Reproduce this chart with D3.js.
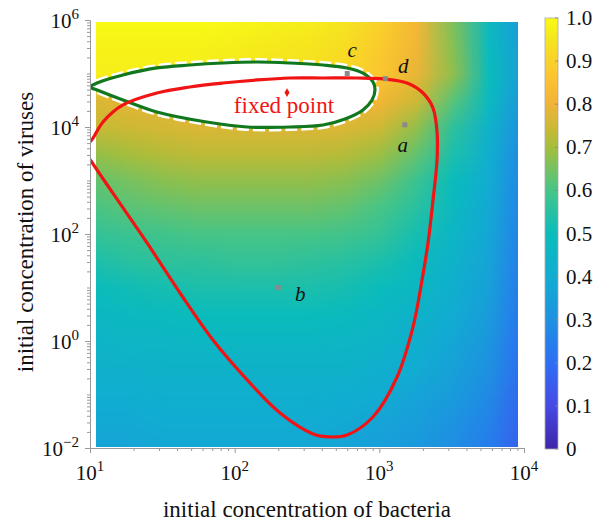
<!DOCTYPE html>
<html lang="en">
<head>
<meta charset="UTF-8">
<title>Bacteria / virus phase plane</title>
<script src="https://d3js.org/d3.v7.min.js"></script>
<style>
  body { margin: 0; background: #fff; }
  svg { display: block; background: #fff; }
  text { font-family: "Liberation Serif", "Times New Roman", serif; fill: #111; }
</style>
</head>
<body>
<script>
// ---- data ----
// heatmap grid: columns = bacteria, rows = viruses (top to bottom)
const gridBacteria = [10, 17.8, 31.6, 56.2, 100, 178, 316, 562, 1000, 1780, 3160, 5620, 10000];
const gridViruses = [1e6, 3.16e5, 1e5, 3.16e4, 1e4, 3160, 1000, 316, 100, 31.6, 10, 3.16, 1, 0.316, 0.1, 0.0316, 0.01];
const gridValues = [
  [1.00, 1.00, 1.00, 1.00, 0.99, 0.98, 0.97, 0.95, 0.90, 0.82, 0.66, 0.48, 0.33],
  [0.98, 0.98, 0.98, 0.98, 0.97, 0.96, 0.95, 0.93, 0.88, 0.81, 0.67, 0.49, 0.34],
  [0.97, 0.97, 0.97, 0.97, 0.96, 0.95, 0.94, 0.92, 0.87, 0.79, 0.68, 0.50, 0.34],
  [0.77, 0.78, 0.78, 0.79, 0.79, 0.79, 0.80, 0.81, 0.81, 0.75, 0.62, 0.48, 0.32],
  [0.74, 0.75, 0.76, 0.77, 0.77, 0.77, 0.77, 0.77, 0.75, 0.68, 0.56, 0.44, 0.29],
  [0.68, 0.70, 0.72, 0.73, 0.73, 0.73, 0.73, 0.72, 0.69, 0.63, 0.53, 0.42, 0.27],
  [0.63, 0.65, 0.67, 0.68, 0.68, 0.68, 0.68, 0.67, 0.64, 0.58, 0.50, 0.40, 0.26],
  [0.60, 0.62, 0.63, 0.64, 0.64, 0.64, 0.64, 0.63, 0.60, 0.55, 0.48, 0.39, 0.25],
  [0.57, 0.58, 0.59, 0.60, 0.60, 0.60, 0.60, 0.59, 0.57, 0.52, 0.46, 0.38, 0.24],
  [0.53, 0.55, 0.56, 0.56, 0.57, 0.57, 0.56, 0.55, 0.53, 0.49, 0.44, 0.37, 0.23],
  [0.50, 0.51, 0.52, 0.53, 0.53, 0.53, 0.53, 0.52, 0.50, 0.47, 0.42, 0.36, 0.22],
  [0.47, 0.48, 0.49, 0.50, 0.50, 0.50, 0.50, 0.49, 0.47, 0.44, 0.40, 0.34, 0.21],
  [0.45, 0.46, 0.46, 0.47, 0.47, 0.47, 0.47, 0.46, 0.45, 0.42, 0.38, 0.32, 0.20],
  [0.43, 0.43, 0.44, 0.44, 0.44, 0.44, 0.44, 0.44, 0.42, 0.40, 0.36, 0.30, 0.19],
  [0.41, 0.41, 0.42, 0.42, 0.42, 0.42, 0.42, 0.41, 0.40, 0.37, 0.34, 0.28, 0.17],
  [0.39, 0.39, 0.40, 0.40, 0.40, 0.40, 0.40, 0.39, 0.37, 0.35, 0.31, 0.26, 0.16],
  [0.37, 0.37, 0.38, 0.38, 0.38, 0.38, 0.38, 0.37, 0.35, 0.33, 0.29, 0.24, 0.15]
];
// extent actually covered by the shaded field
const fieldBacteria = [11, 9100];
const fieldViruses = [0.0104, 9.2e5];

// red separatrix (bacteria, viruses)
const redCurve = [
  [9.2, 3700], [10.3, 2200], [14.4, 580], [24.8, 68], [41.9, 7.9], [70.8, 1.04],
  [122, 0.187], [206, 0.045], [348, 0.0183], [456, 0.0161], [598, 0.0175], [903, 0.038],
  [1324, 0.21], [1709, 1.83], [1973, 13.8], [2170, 68], [2350, 433], [2505, 2415],
  [2505, 8070], [2350, 22600], [2004, 43200], [1554, 66400], [1094, 78800], [701, 82400],
  [408, 82400], [241, 82400], [143, 75700], [83, 66400], [49, 56000], [29, 43200],
  [16.9, 25800], [12.3, 12400], [10.5, 6220]
];
// green closed orbit
const greenCurve = [
  [10, 56000], [11.2, 66400], [16.9, 93700], [29, 127000], [49, 144000], [83, 157000],
  [143, 164000], [241, 157000], [408, 144000], [598, 127000], [771, 102000], [904, 69300],
  [933, 49200], [890, 32000], [771, 20800], [579, 14100], [408, 10900], [241, 10000],
  [122, 10000], [64, 12400], [29, 19100], [16.9, 32000], [11.2, 49200]
];
const markerNames = ['a', 'b', 'c', 'd'];
const markerBacteria = [1500, 200, 600, 1100];
const markerViruses = [11000, 10, 100000, 80000];
const fixedPoint = [230, 44000];

const xMajor = [10, 100, 1000, 10000];
const yMajor = [1e-2, 1, 1e2, 1e4, 1e6];
const cbTicks = [0, 0.1, 0.2, 0.3, 0.4, 0.5, 0.6, 0.7, 0.8, 0.9, 1.0];

// parula-like colormap
const cmapStops = [0, 0.1, 0.2, 0.3, 0.4, 0.5, 0.6, 0.7, 0.75, 0.8, 0.85, 0.9, 0.95, 1];
const cmapColors = ['#3e26a8', '#4749e5', '#2d6ef5', '#1e91e1', '#12acd2', '#0abcbc', '#46c587',
                    '#a5be3c', '#cdb935', '#f0b437', '#fbbf33', '#fad12a', '#f5e51f', '#f9fb14'];

// ---- layout ----
const width = 606, height = 524;
const labelOffset = {a: [-2, 27], b: [22, 13], c: [5, -17], d: [18, -6]};

const svg = d3.select('body').append('svg')
  .attr('width', width)
  .attr('height', height)
  .attr('font-family', '"Liberation Serif", "Times New Roman", serif');

const x = d3.scaleLog().domain([10, 1e4]).range([90, 524]);
const y = d3.scaleLog().domain([1e-2, 1e6]).range([448, 20]);
const color = d3.scaleLinear().domain(cmapStops).range(cmapColors).clamp(true);

const defs = svg.append('defs');
defs.append('clipPath').attr('id', 'field-clip').append('rect')
  .attr('x', x(fieldBacteria[0])).attr('y', y(fieldViruses[1]))
  .attr('width', x(fieldBacteria[1]) - x(fieldBacteria[0]))
  .attr('height', y(fieldViruses[0]) - y(fieldViruses[1]));
defs.append('clipPath').attr('id', 'plot-clip').append('rect')
  .attr('x', 90).attr('y', 20).attr('width', 434).attr('height', 428);

// shaded field: one pixel per grid cell, smoothed on upscaling
const cols = gridBacteria.length, rows = gridViruses.length;
const canvas = document.createElement('canvas');
canvas.width = cols; canvas.height = rows;
const ctx = canvas.getContext('2d');
const img = ctx.createImageData(cols, rows);
gridValues.forEach((row, j) => {
  row.forEach((v, i) => {
    const c = d3.rgb(color(v));
    const k = (j * cols + i) * 4;
    img.data[k] = c.r; img.data[k + 1] = c.g; img.data[k + 2] = c.b; img.data[k + 3] = 255;
  });
});
ctx.putImageData(img, 0, 0);

const dx = (x(gridBacteria[1]) - x(gridBacteria[0])) / 2;
const dy = (y(gridViruses[1]) - y(gridViruses[0])) / 2;
svg.append('image')
  .attr('href', canvas.toDataURL())
  .attr('x', x(gridBacteria[0]) - dx)
  .attr('y', y(gridViruses[0]) - dy)
  .attr('width', x(gridBacteria[cols - 1]) - x(gridBacteria[0]) + 2 * dx)
  .attr('height', y(gridViruses[rows - 1]) - y(gridViruses[0]) + 2 * dy)
  .attr('preserveAspectRatio', 'none')
  .attr('clip-path', 'url(#field-clip)');

// curves
const line = d3.line()
  .x(d => x(d[0]))
  .y(d => y(d[1]))
  .curve(d3.curveCatmullRomClosed.alpha(0.5));

const curves = svg.append('g').attr('clip-path', 'url(#plot-clip)');
curves.append('path')
  .attr('d', line(greenCurve))
  .attr('fill', '#fff')
  .attr('stroke', '#fff')
  .attr('stroke-width', 8)
  .attr('stroke-dasharray', '12,4');
curves.append('path')
  .attr('d', line(greenCurve))
  .attr('fill', 'none')
  .attr('stroke', '#12781e')
  .attr('stroke-width', 3.2);
curves.append('path')
  .attr('d', line(redCurve))
  .attr('fill', 'none')
  .attr('stroke', '#f01414')
  .attr('stroke-width', 3.2);

// axes
function styleAxis(g) {
  g.select('.domain').attr('stroke', '#999');
  g.selectAll('.tick line').attr('stroke', '#999');
  g.selectAll('.tick text').remove();
}
const xMinor = x.ticks().filter(v => !xMajor.includes(v));
const yMinor = y.ticks().filter(v => !yMajor.includes(v) && v <= 1e6);

svg.append('g').attr('transform', 'translate(0,448)')
  .call(d3.axisBottom(x).tickValues(xMinor).tickSize(3).tickSizeOuter(0)).call(styleAxis);
svg.append('g').attr('transform', 'translate(0,448)')
  .call(d3.axisBottom(x).tickValues(xMajor).tickSize(5).tickSizeOuter(0)).call(styleAxis);
svg.append('g').attr('transform', 'translate(90,0)')
  .call(d3.axisLeft(y).tickValues(yMinor).tickSize(3).tickSizeOuter(0)).call(styleAxis);
svg.append('g').attr('transform', 'translate(90,0)')
  .call(d3.axisLeft(y).tickValues(yMajor).tickSize(5).tickSizeOuter(0)).call(styleAxis);

const exp = v => String(Math.round(Math.log10(v))).replace('-', '\u2212');

xMajor.forEach(v => {
  const t = svg.append('text')
    .attr('x', x(v)).attr('y', 480)
    .attr('text-anchor', 'middle')
    .style('font-size', '21px');
  t.append('tspan').text('10');
  t.append('tspan').attr('dy', -9).style('font-size', '15px').text(exp(v));
});
yMajor.forEach(v => {
  const t = svg.append('text')
    .attr('x', 79).attr('y', y(v) + 8)
    .attr('text-anchor', 'end')
    .style('font-size', '21px');
  t.append('tspan').text('10');
  t.append('tspan').attr('dy', -9).style('font-size', '15px').text(exp(v));
});

svg.append('text')
  .attr('x', 307).attr('y', 517)
  .attr('text-anchor', 'middle')
  .style('font-size', '23px')
  .text('initial concentration of bacteria');
svg.append('text')
  .attr('transform', 'translate(33,232) rotate(-90)')
  .attr('text-anchor', 'middle')
  .style('font-size', '23px')
  .text('initial concentration of viruses');

// markers
markerNames.forEach((name, i) => {
  const px = x(markerBacteria[i]), py = y(markerViruses[i]);
  svg.append('rect')
    .attr('x', px - 2.5).attr('y', py - 2.5)
    .attr('width', 5).attr('height', 5)
    .attr('fill', '#8a8a8a');
  svg.append('text')
    .attr('x', px + labelOffset[name][0]).attr('y', py + labelOffset[name][1])
    .attr('text-anchor', 'middle')
    .style('font-size', '21px')
    .style('font-style', 'italic')
    .text(name);
});

svg.append('path')
  .attr('d', d3.symbol(d3.symbolDiamond, 22)())
  .attr('transform', `translate(${x(fixedPoint[0])},${y(fixedPoint[1])})`)
  .attr('fill', '#f01414');
svg.append('text')
  .attr('x', x(fixedPoint[0]) - 3).attr('y', y(fixedPoint[1]) + 20)
  .attr('text-anchor', 'middle')
  .style('font-size', '23px')
  .style('fill', '#f01414')
  .text('fixed point');

// colorbar
const cb = d3.scaleLinear().domain([0, 1]).range([449, 18]);
const grad = defs.append('linearGradient').attr('id', 'cbar')
  .attr('x1', 0).attr('y1', 1).attr('x2', 0).attr('y2', 0);
cmapStops.forEach((s, i) => {
  grad.append('stop').attr('offset', s).attr('stop-color', cmapColors[i]);
});
svg.append('rect')
  .attr('x', 545).attr('y', cb(1))
  .attr('width', 13).attr('height', cb(0) - cb(1))
  .attr('fill', 'url(#cbar)')
  .attr('stroke', '#aaa')
  .attr('stroke-width', 0.8);
cbTicks.forEach(v => {
  svg.append('line')
    .attr('x1', 555).attr('x2', 558)
    .attr('y1', cb(v)).attr('y2', cb(v))
    .attr('stroke', '#888').attr('stroke-width', 0.8);
  svg.append('text')
    .attr('x', 566).attr('y', cb(v) + 7)
    .style('font-size', '21px')
    .text(v === 0 ? '0' : v.toFixed(1));
});
</script>
</body>
</html>
